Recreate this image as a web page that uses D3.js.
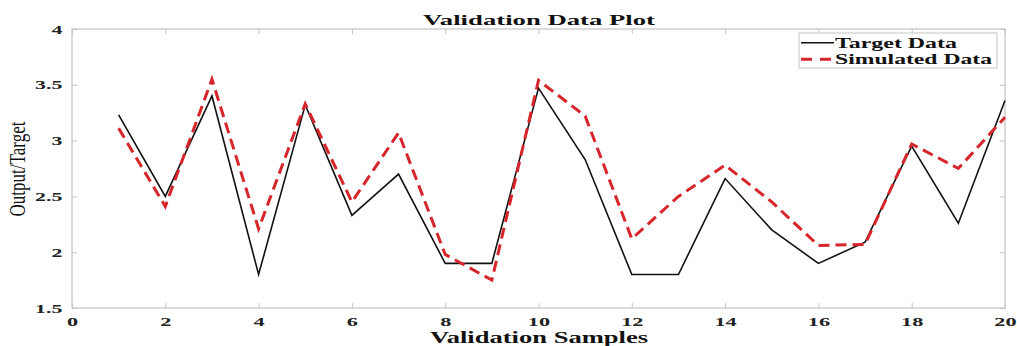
<!DOCTYPE html>
<html><head><meta charset="utf-8">
<script src="https://cdn.jsdelivr.net/npm/d3@7"></script>
<style>body{margin:0;background:#fff}</style>
</head><body>
<svg id="c" width="1017" height="346"></svg>
<script>
const samples = [1,2,3,4,5,6,7,8,9,10,11,12,13,14,15,16,17,18,19,20];
const targetData = [3.23,2.50,3.40,1.80,3.32,2.33,2.70,1.90,1.90,3.47,2.83,1.80,1.80,2.66,2.20,1.90,2.09,2.95,2.26,3.36];
const simulatedData = [3.11,2.41,3.55,2.21,3.33,2.45,3.07,1.98,1.75,3.54,3.22,2.12,2.50,2.78,2.45,2.06,2.07,2.97,2.75,3.21];
const xTicks = [0,2,4,6,8,10,12,14,16,18,20];
const yTicks = [1.5,2,2.5,3,3.5,4];
const seriesNames = ["Target Data","Simulated Data"];

const svg = d3.select("#c");
const L=72, R=1005, T=29, B=308;
const x = d3.scaleLinear().domain([0,20]).range([L,R]);
const y = d3.scaleLinear().domain([1.5,4]).range([B,T]);
const frame = "#c4c4c4";
const font = "'Liberation Serif','Times New Roman',serif";

// frame
svg.append("rect").attr("x",L).attr("y",T).attr("width",R-L).attr("height",B-T)
  .attr("fill","none").attr("stroke",frame).attr("stroke-width",1.2);

// bottom axis
const gx = svg.append("g").attr("transform",`translate(0,${B})`)
  .call(d3.axisBottom(x).tickValues(xTicks).tickSize(-5).tickPadding(10).tickFormat(d3.format("d")));
gx.select(".domain").remove();
gx.selectAll("line").attr("stroke",frame);
gx.selectAll("text").attr("font-family",font).attr("font-weight","bold").attr("font-size",13.5)
  .attr("fill","#222").attr("transform","scale(1.65,1)").attr("y",8);

// top ticks
const gt = svg.append("g").attr("transform",`translate(0,${T})`)
  .call(d3.axisTop(x).tickValues(xTicks).tickSize(-5).tickFormat(""));
gt.select(".domain").remove();
gt.selectAll("line").attr("stroke",frame);

// left axis
const gy = svg.append("g").attr("transform",`translate(${L},0)`)
  .call(d3.axisLeft(y).tickValues(yTicks).tickSize(-5).tickPadding(6).tickFormat(d=>String(d)));
gy.select(".domain").remove();
gy.selectAll("line").attr("stroke",frame);
gy.selectAll("text").attr("font-family",font).attr("font-weight","bold").attr("font-size",12.5)
  .attr("fill","#222").attr("transform","scale(1.75,1)").attr("x",-5.5);

// right ticks
const gr = svg.append("g").attr("transform",`translate(${R},0)`)
  .call(d3.axisRight(y).tickValues(yTicks).tickSize(-5).tickFormat(""));
gr.select(".domain").remove();
gr.selectAll("line").attr("stroke",frame);

// lines
const line = d3.line().x((d,i)=>x(samples[i])).y(d=>y(d));
svg.append("path").datum(targetData).attr("d",line).attr("fill","none")
  .attr("stroke","#111").attr("stroke-width",1.6);
svg.append("path").datum(simulatedData).attr("d",line).attr("fill","none")
  .attr("stroke","#d7262b").attr("stroke-width",3).attr("stroke-dasharray","11,6");

// title
svg.append("text").attr("x",539).attr("y",25).attr("text-anchor","middle")
  .attr("font-family",font).attr("font-weight","bold").attr("font-size",15.5)
  .attr("textLength",232).attr("lengthAdjust","spacingAndGlyphs").attr("fill","#111")
  .text("Validation Data Plot");

// x label
svg.append("text").attr("x",539).attr("y",343).attr("text-anchor","middle")
  .attr("font-family",font).attr("font-weight","bold").attr("font-size",16)
  .attr("textLength",218).attr("lengthAdjust","spacingAndGlyphs").attr("fill","#111")
  .text("Validation Samples");

// y label
svg.append("text").attr("transform","translate(25,169) rotate(-90) scale(1,1.4)")
  .attr("text-anchor","middle")
  .attr("font-family",font).attr("font-size",16)
  .attr("textLength",95).attr("lengthAdjust","spacingAndGlyphs").attr("fill","#111")
  .text("Output/Target");

// legend
const lg = svg.append("g");
lg.append("rect").attr("x",799).attr("y",33).attr("width",198).attr("height",35)
  .attr("fill","#fff").attr("stroke",frame).attr("stroke-width",1);
const legY = [42.7,59.3];
const legW = [122,157];
lg.append("line").attr("x1",801).attr("x2",834).attr("y1",legY[0]).attr("y2",legY[0])
  .attr("stroke","#111").attr("stroke-width",1.6);
lg.append("line").attr("x1",801).attr("x2",834).attr("y1",legY[1]).attr("y2",legY[1])
  .attr("stroke","#d7262b").attr("stroke-width",3).attr("stroke-dasharray","11,8");
seriesNames.forEach((n,i)=>{
  lg.append("text").attr("x",835).attr("y",legY[i]+5).attr("font-family",font)
    .attr("font-weight","bold").attr("font-size",14).attr("fill","#111")
    .attr("textLength",legW[i]).attr("lengthAdjust","spacingAndGlyphs").text(n);
});
</script>
</body></html>
